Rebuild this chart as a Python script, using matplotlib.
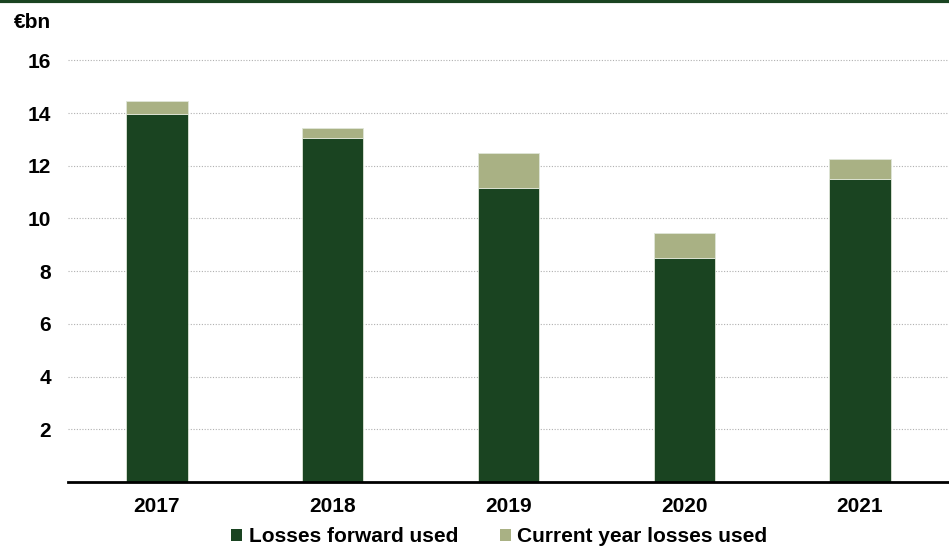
import matplotlib
matplotlib.use("Agg")
import matplotlib.pyplot as plt
from matplotlib.patches import Patch
from matplotlib.lines import Line2D

years = ["2017", "2018", "2019", "2020", "2021"]
losses_forward = [13.97, 13.07, 11.17, 8.51, 11.51]
current_year = [0.48, 0.35, 1.30, 0.93, 0.74]
yticks = [2, 4, 6, 8, 10, 12, 14, 16]

dark = "#1a4421"
light = "#a9b184"

plt.rcParams['font.family'] = ['Liberation Sans', 'DejaVu Sans']

W, H = 949, 549
fig = plt.figure(figsize=(W / 100, H / 100), dpi=100)
ax_left = 68 / W
ax_bottom = 1 - 482 / H
ymax = 16.5
px_per_unit = 26.35
ax_h = ymax * px_per_unit / H
ax = fig.add_axes([ax_left, ax_bottom, 1 - ax_left, ax_h])

x = list(range(len(years)))
ax.bar(x, losses_forward, width=0.35, color=dark, edgecolor="#dfe6d8", linewidth=0.6, zorder=3,
       label="Losses forward used")
ax.bar(x, current_year, bottom=losses_forward, width=0.35, color=light, edgecolor="#dfe6d8",
       linewidth=0.6, zorder=3, label="Current year losses used")

ax.set_xlim(-0.506, 4.506)
ax.set_ylim(0, ymax)
ax.set_yticks(yticks)
ax.set_yticklabels([str(v) for v in yticks], fontsize=15, fontweight="bold")
ax.set_xticks(x)
ax.set_xticklabels(years, fontsize=15, fontweight="bold")
ax.tick_params(axis="both", length=0)
ax.tick_params(axis="y", pad=12)
ax.tick_params(axis="x", pad=11)
ax.yaxis.grid(True, linestyle=(0, (1, 1.5)), color="#b0b0b0", linewidth=0.8, zorder=0)
for s in ["top", "right", "left"]:
    ax.spines[s].set_visible(False)
ax.spines["bottom"].set_linewidth(2)
ax.spines["bottom"].set_color("black")
ax.spines["bottom"].set_zorder(4)

fig.text(14 / W, 1 - 22 / H, "€bn", fontsize=15, fontweight="bold", va="center", ha="left")

# top rule
fig.add_artist(Line2D([0, 1], [1 - 1 / H, 1 - 1 / H], color=dark, linewidth=3, transform=fig.transFigure))

handles = [Patch(facecolor=dark, edgecolor="none"), Patch(facecolor=light, edgecolor="none")]
fig.legend(handles, ["Losses forward used", "Current year losses used"], loc="center",
           bbox_to_anchor=(0.526, 1 - 537 / H), ncol=2, frameon=False,
           prop={"size": 15, "weight": "bold"}, handlelength=0.55, handleheight=0.55,
           handletextpad=0.3, columnspacing=2.0)

fig.savefig("out.png", dpi=100)
